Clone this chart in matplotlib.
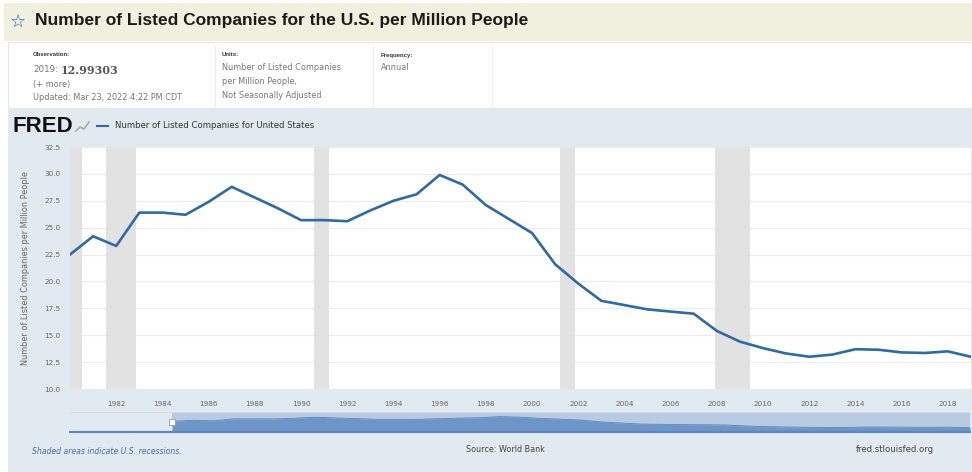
import matplotlib
matplotlib.use("Agg")
import matplotlib.pyplot as plt
from matplotlib.patches import Rectangle
from matplotlib.lines import Line2D

W, H = 972, 472

# series
years = list(range(1980, 2020))
values = [22.5, 24.2, 23.3, 26.4, 26.4, 26.2, 27.4, 28.8, 27.8, 26.8,
          25.7, 25.7, 25.6, 26.6, 27.5, 28.1, 29.9, 29.0, 27.1, 25.8,
          24.5, 21.6, 19.8, 18.2, 17.8, 17.4, 17.2, 17.0, 15.4, 14.4,
          13.8, 13.3, 13.0, 13.2, 13.7, 13.65, 13.4, 13.35, 13.5, 12.99]
recessions = [(1980.0, 1980.54), (1981.54, 1982.87), (1990.54, 1991.2),
              (2001.2, 2001.87), (2007.92, 2009.45)]
ytick_vals = [10.0, 12.5, 15.0, 17.5, 20.0, 22.5, 25.0, 27.5, 30.0, 32.5]
xtick_years = list(range(1982, 2019, 2))

LINE = "#2f6aa5"
PANEL = "#e1e9f1"
GRAY = "#666666"
DV = "DejaVu Sans"


def fx(x):
    return x / W


def fy(y):
    return 1 - y / H


def box(x0, y0, x1, y1, **kw):
    return Rectangle((fx(x0), fy(y1)), fx(x1 - x0), (y1 - y0) / H,
                     transform=fig.transFigure, zorder=-10, **kw)


fig = plt.figure(figsize=(W / 100, H / 100), dpi=100)
fig.patch.set_facecolor("white")
plt.rcParams["font.family"] = ["Liberation Sans", "DejaVu Sans"]

# title banner
fig.add_artist(box(4, 3, W, 41, facecolor="#eff1de", edgecolor="none"))
fig.text(fx(18), fy(22), "\u2606", fontsize=13, color="#2a5fb5",
         family=DV, ha="center", va="center", fontweight="bold")
fig.text(fx(35), fy(21), "Number of Listed Companies for the U.S. per Million People",
         fontsize=12.5, fontweight="bold", color="#1a1a1a", va="center")

# info row
fig.add_artist(box(8, 42, W, 108, facecolor="white", edgecolor="#e6e6e6", lw=0.8))
for xs in (215, 373, 492):
    fig.add_artist(Line2D([fx(xs), fx(xs)], [fy(46), fy(106)], color="#ececec", lw=0.8))

small = dict(fontsize=4.3, fontweight="bold", color="#333333", va="center")
info = dict(fontsize=5.9, color="#777777", va="center", family=DV)
fig.text(fx(33), fy(55), "Observation:", **small)
fig.text(fx(33), fy(70), "2019:", fontsize=6.3, color="#777777", va="center", family=DV)
fig.text(fx(61), fy(70), "12.99303", fontsize=8, fontweight="bold",
         color="#555555", va="center", family="DejaVu Serif")
fig.text(fx(33), fy(84), "(+ more)", **info)
fig.text(fx(33), fy(98), "Updated: Mar 23, 2022 4:22 PM CDT", **info)
fig.text(fx(222), fy(55), "Units:", **small)
fig.text(fx(222), fy(67), "Number of Listed Companies", **info)
fig.text(fx(222), fy(81), "per Million People,", **info)
fig.text(fx(222), fy(95), "Not Seasonally Adjusted", **info)
fig.text(fx(381), fy(55), "Frequency:", **small)
fig.text(fx(381), fy(67), "Annual", **info)

# chart panel
fig.add_artist(box(8, 109, W, H, facecolor=PANEL, edgecolor="none"))
fig.text(fx(12), fy(126), "FRED", fontsize=16, fontweight="heavy",
         color="#111111", va="center")
fig.add_artist(Line2D([fx(76), fx(80), fx(84), fx(89)], [fy(131), fy(127), fy(129), fy(122)],
                      color="#9fb3a0", lw=1.2))
fig.add_artist(Line2D([fx(97), fx(108)], [fy(126), fy(126)], color=LINE, lw=1.5))
fig.text(fx(115), fy(126), "Number of Listed Companies for United States",
         fontsize=6.1, color="#333333", va="center", family=DV)

# main axes
ax = fig.add_axes([fx(70), fy(389), fx(901), (389 - 147) / H])
ax.set_facecolor("white")
for r0, r1 in recessions:
    ax.axvspan(r0, r1, color="#e2e2e2", lw=0, zorder=1)
for v in ytick_vals:
    ax.axhline(v, color="#ececec", lw=0.8, zorder=0.5)
ax.plot(years, values, color=LINE, lw=1.9, zorder=3, solid_joinstyle="round")
ax.set_xlim(1980, 2019)
ax.set_ylim(10, 32.5)
ax.set_yticks(ytick_vals)
ax.set_yticklabels([f"{v:.1f}" for v in ytick_vals], family=DV)
ax.set_xticks(xtick_years)
ax.set_xticklabels([str(y) for y in xtick_years], family=DV)
ax.tick_params(length=0, labelsize=5.2, labelcolor=GRAY, pad=9)
ax.tick_params(axis="y", pad=7)
for s in ax.spines.values():
    s.set_visible(False)
ax.set_ylabel("Number of Listed Companies per Million People", fontsize=5.9,
              color=GRAY, labelpad=10, family=DV)

# navigator
nav = fig.add_axes([fx(70), fy(432), fx(900), 20 / H])
nav.set_facecolor(PANEL)
nav.axvspan(years[0], years[-1], color="#b9cbe3", lw=0, zorder=0)
nav.fill_between(years, 6, values, color="#6690c5", alpha=0.9, lw=0, zorder=1)
nav.plot(years, values, color="#5b86bf", lw=0.6, zorder=2)
nav.plot([years[0]], [22], marker="s", ms=4.5, mfc="white", mec="#999999",
         mew=0.6, zorder=3, clip_on=False)
nav.set_xlim(1975, 2019)
nav.set_ylim(6, 37)
nav.set_xticks([])
nav.set_yticks([])
for k, s in nav.spines.items():
    s.set_visible(k == "bottom")
nav.spines["bottom"].set_color("#5b86bf")
nav.spines["bottom"].set_linewidth(1.5)
nav.axhline(37, color="#d6dde6", lw=0.6)

# footer
fig.text(fx(32), fy(452), "Shaded areas indicate U.S. recessions.", fontsize=5.6,
         style="italic", color="#4a6fa8", va="center", family=DV)
fig.text(fx(505), fy(450), "Source: World Bank", fontsize=5.8, color="#444444",
         ha="center", va="center", family=DV)
fig.text(fx(895), fy(450), "fred.stlouisfed.org", fontsize=6.1, color="#444444",
         ha="center", va="center", family=DV)

fig.savefig("out.png", dpi=100)
